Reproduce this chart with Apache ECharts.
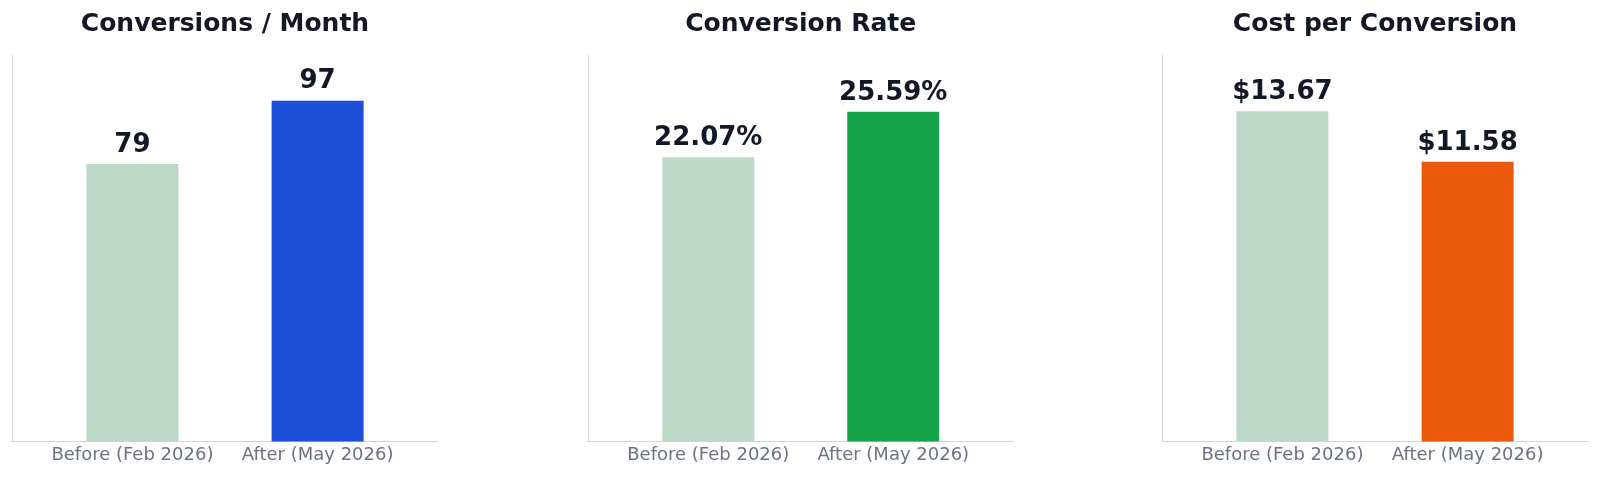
<!DOCTYPE html>
<html>
<head>
<meta charset="utf-8">
<script src="https://cdn.jsdelivr.net/npm/echarts@6/dist/echarts.min.js"></script>
<style>
  html, body { margin: 0; padding: 0; background: #ffffff; }
  #chart { width: 1600px; height: 478px; }
</style>
</head>
<body>
<div id="chart"></div>
<script>
// ---- data ----
const categories = ['Before (Feb 2026)', 'After (May 2026)'];
const panelTitles = ['Conversions / Month', 'Conversion Rate', 'Cost per Conversion'];
const conversionsPerMonth = [79, 97];
const conversionRate = [22.07, 25.59];
const costPerConversion = [13.67, 11.58];
const axisMax = [110, 30, 16];

// ---- styling ----
const FONT = 'DejaVu Sans';
const beforeColor = '#bcd8c7';
const afterColors = ['#1d4ed8', '#16a34a', '#ea580c'];
const labelFormats = [
  v => String(v),
  v => v.toFixed(2) + '%',
  v => '$' + v.toFixed(2)
];
const seriesValues = [conversionsPerMonth, conversionRate, costPerConversion];

const grids = [
  { left: 12, width: 426 },
  { left: 588, width: 425.5 },
  { left: 1162, width: 426 }
];

const option = {
  backgroundColor: '#ffffff',
  animation: false,
  title: [],
  grid: [],
  xAxis: [],
  yAxis: [],
  series: []
};

grids.forEach((g, i) => {
  option.grid.push({ left: g.left, width: g.width, top: 55, bottom: 36.5, containLabel: false });
  option.title.push({
    text: panelTitles[i],
    left: g.left + g.width / 2,
    top: 12,
    padding: 0,
    textAlign: 'center',
    textStyle: { fontFamily: FONT, fontWeight: 'bold', fontSize: 25, color: '#111827' }
  });
  option.xAxis.push({
    type: 'value',
    gridIndex: i,
    min: -0.65,
    max: 1.65,
    axisLine: { show: true, onZero: false, lineStyle: { color: '#d1d5db', width: 1 } },
    axisTick: { show: false },
    splitLine: { show: false },
    axisLabel: {
      customValues: [0, 1],
      formatter: v => categories[Math.round(v)] || '',
      fontFamily: FONT,
      fontSize: 18,
      color: '#6b7280',
      margin: 5
    }
  });
  option.yAxis.push({
    type: 'value',
    gridIndex: i,
    min: 0,
    max: axisMax[i],
    axisLine: { show: true, onZero: false, lineStyle: { color: '#d1d5db', width: 1 } },
    axisTick: { show: false },
    axisLabel: { show: false },
    splitLine: { show: false }
  });
  const vals = seriesValues[i];
  option.series.push({
    type: 'bar',
    xAxisIndex: i,
    yAxisIndex: i,
    barWidth: 92,
    data: vals.map((v, k) => ({
      value: [k, v],
      itemStyle: { color: k === 0 ? beforeColor : afterColors[i] }
    })),
    label: {
      show: true,
      position: 'top',
      distance: 6,
      fontFamily: FONT,
      fontWeight: 'bold',
      fontSize: 26,
      color: '#111827',
      formatter: p => labelFormats[i](p.value[1])
    }
  });
});

const chart = echarts.init(document.getElementById('chart'), null, { renderer: 'canvas' });
chart.setOption(option);
</script>
</body>
</html>
